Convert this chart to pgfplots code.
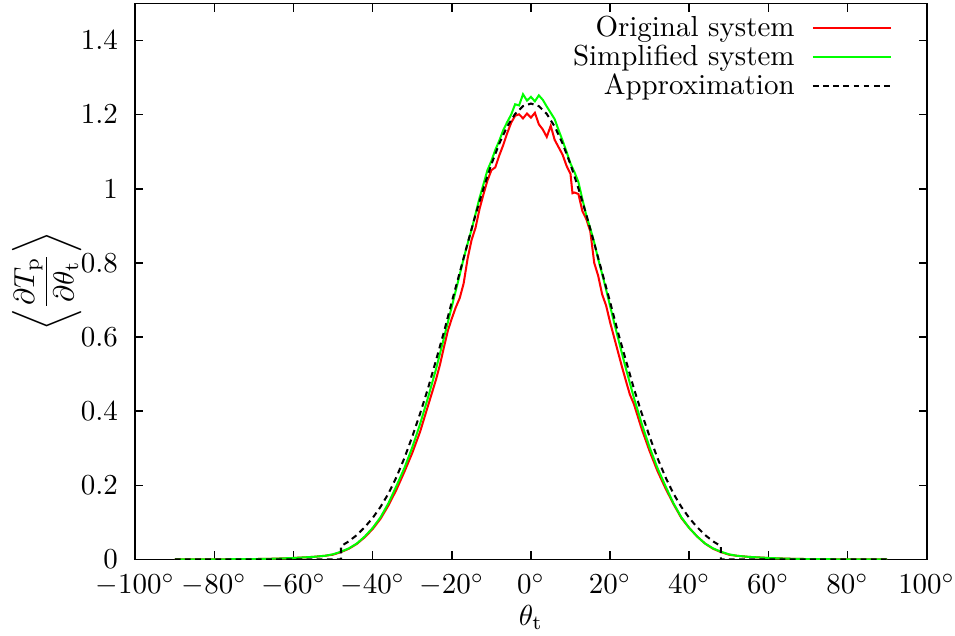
\documentclass[border=0pt]{standalone}
\usepackage{amsmath}
\usepackage{pgfplots}
\pgfplotsset{compat=1.18}
\begin{document}
\begin{tikzpicture}
\begin{axis}[
  name=ax,
  scale only axis, width=273.3pt, height=192pt,
  xmin=-100, xmax=100, ymin=0, ymax=1.5,
  xtick={-100,-80,-60,-40,-20,0,20,40,60,80,100},
  ytick={0,0.2,0.4,0.6,0.8,1,1.2,1.4},
  xticklabel={$\pgfmathprintnumber{\tick}^\circ$},
  tick align=inside, major tick length=2.8pt,
  axis line style={line width=0.6pt},
  every tick/.style={black, line width=0.5pt},
  yticklabel style={inner sep=0pt, xshift=-5.8pt},
  xticklabel style={inner sep=0pt, yshift=-4.8pt},
  xlabel={$\theta_\mathrm{t}$},
  xlabel style={inner sep=0pt, at={(rel axis cs:0.5,-0.119)}, anchor=base},
  ylabel={$\left\langle\dfrac{\partial T_\mathrm{p}}{\partial\theta_\mathrm{t}}\right\rangle$},
  ylabel style={inner sep=0pt, at={(rel axis cs:-0.112,0.5)}, anchor=center},
  legend style={draw=none, fill=none, at={(rel axis cs:1,1)}, anchor=north east, xshift=-8.7pt, yshift=0pt, row sep=-2.5pt,
    /tikz/every odd column/.append style={column sep=4pt}},
  legend cell align=right, legend plot pos=right,
  legend image code/.code={\draw[#1] (0pt,0pt) -- (27pt,0pt);},
]
\addplot[red, line width=0.7pt] coordinates {
(-90,0) (-80,0.0003) (-70,0.001) (-65,0.002) (-60,0.004) (-55,0.007) (-52,0.010) (-50,0.013)
(-48,0.020) (-46,0.029) (-44,0.042) (-42,0.060) (-40,0.082) (-38,0.110) (-36,0.146) (-34,0.188)
(-32,0.236) (-30,0.287) (-28,0.345) (-26,0.415) (-25,0.450) (-24,0.485) (-23,0.525) (-22,0.572)
(-21,0.617) (-20,0.650) (-19,0.680) (-18,0.705) (-17,0.745) (-16,0.812) (-15,0.862) (-14,0.895)
(-13,0.945) (-12,0.985) (-11,1.022) (-10,1.050) (-9,1.058) (-8,1.090) (-7,1.118) (-6,1.150)
(-5,1.178) (-4,1.197) (-3,1.201) (-2,1.190) (-1,1.203) (0,1.192) (1,1.205) (2,1.174)
(3,1.160) (4,1.140) (5,1.170) (6,1.132) (7,1.112) (8,1.092) (9,1.062) (10,1.040)
(10.5,0.988) (11,0.990) (12,0.986) (13,0.940) (14,0.918) (15,0.885) (16,0.800) (17,0.765)
(18,0.715) (19,0.685) (20,0.640) (21,0.600) (22,0.560) (23,0.520) (24,0.482) (25,0.445)
(26,0.420) (28,0.352) (30,0.292) (32,0.238) (34,0.192) (36,0.150) (38,0.112) (40,0.085)
(42,0.062) (44,0.043) (46,0.029) (48,0.020) (50,0.013) (52,0.010) (55,0.007) (60,0.004)
(65,0.002) (70,0.001) (80,0.0003) (90,0)
};
\addlegendentry{Original system}
\addplot[green, line width=0.7pt] coordinates {
(-90,0) (-80,0.0003) (-70,0.001) (-65,0.002) (-60,0.004) (-55,0.007) (-52,0.010) (-50,0.014)
(-48,0.021) (-46,0.030) (-44,0.043) (-42,0.062) (-40,0.085) (-38,0.114) (-36,0.152) (-34,0.198)
(-32,0.246) (-30,0.302) (-28,0.366) (-26,0.437) (-25,0.475) (-24,0.513) (-23,0.555) (-22,0.597)
(-21,0.640) (-20,0.682) (-19,0.725) (-18,0.768) (-17,0.812) (-16,0.852) (-15,0.890) (-14,0.932)
(-13,0.975) (-12,1.012) (-11,1.050) (-10,1.075) (-9,1.105) (-8,1.130) (-7,1.158) (-6,1.180)
(-5,1.200) (-4,1.228) (-3,1.225) (-2,1.255) (-1,1.238) (0,1.248) (1,1.236) (2,1.252)
(3,1.240) (4,1.222) (5,1.205) (6,1.188) (7,1.158) (8,1.130) (9,1.100) (10,1.068)
(11,1.045) (12,1.018) (13,0.972) (14,0.928) (15,0.893) (16,0.855) (17,0.810) (18,0.770)
(19,0.728) (20,0.684) (21,0.640) (22,0.598) (23,0.556) (24,0.515) (25,0.476) (26,0.437)
(28,0.366) (30,0.302) (32,0.246) (34,0.198) (36,0.152) (38,0.114) (40,0.085) (42,0.062)
(44,0.043) (46,0.030) (48,0.021) (50,0.014) (52,0.010) (55,0.007) (60,0.004) (65,0.002)
(70,0.001) (80,0.0003) (90,0)
};
\addlegendentry{Simplified system}
\addplot[black, line width=0.7pt, dash pattern=on 2pt off 1.5pt] coordinates {
(-90,0) (-48,0) (-48,0.036) (-46,0.049) (-44,0.066) (-42,0.087) (-40,0.112) (-38,0.142)
(-36,0.178) (-34,0.222) (-32,0.273) (-30,0.331) (-28,0.394) (-26,0.462) (-24,0.537) (-22,0.613)
(-20,0.695) (-18,0.774) (-16,0.853) (-14,0.930) (-12,1.001) (-10,1.066) (-8,1.122) (-6,1.168)
(-4,1.202) (-2,1.223) (0,1.230) (2,1.223) (4,1.202) (6,1.168) (8,1.122) (10,1.066)
(12,1.001) (14,0.930) (16,0.853) (18,0.774) (20,0.695) (22,0.613) (24,0.537) (26,0.462)
(28,0.394) (30,0.331) (32,0.273) (34,0.222) (36,0.178) (38,0.142) (40,0.112) (42,0.087)
(44,0.066) (46,0.049) (48,0.036) (48,0) (90,0)
};
\addlegendentry{Approximation}
\end{axis}
\path (ax.south west) ++(-46.7pt,-26.4pt) coordinate (bbsw);
\path (ax.north east) ++(9.3pt,1.2pt) coordinate (bbne);
\path (bbsw) rectangle (bbne);
\end{tikzpicture}
\end{document}
